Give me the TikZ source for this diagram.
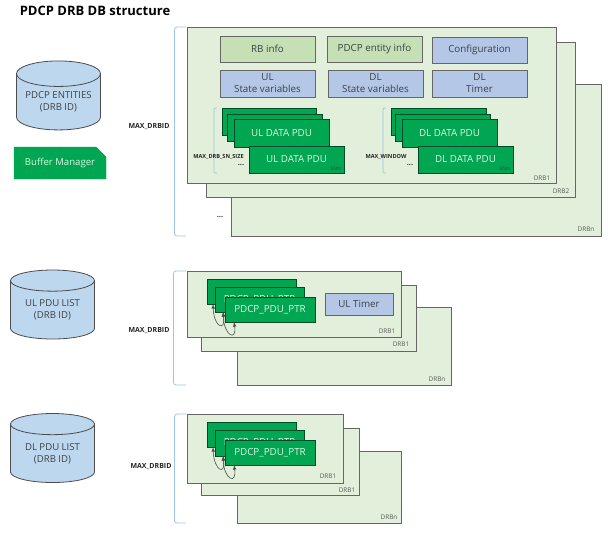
\documentclass[tikz,border=0pt]{standalone}
\usepackage{fontspec}
\setmainfont{Open Sans}
\usetikzlibrary{shapes.geometric,shapes.misc}
\definecolor{panelfill}{RGB}{226,239,218}
\definecolor{infofill}{RGB}{197,224,180}
\definecolor{varfill}{RGB}{180,199,231}
\definecolor{dbfill}{RGB}{189,215,238}
\definecolor{pdufill}{RGB}{0,166,81}
\definecolor{pdutext}{RGB}{222,245,225}
\definecolor{inktext}{RGB}{60,66,72}
\definecolor{bracecol}{RGB}{157,195,230}
\def\rectnode[#1](#2)(#3,#4)(#5,#6)#7{\node[#1, minimum width={(#5-#3)*1pt}, minimum height={(#6-#4)*1pt}] (#2) at ({(#3+#5)/2},{(#4+#6)/2}) {#7};}
\tikzset{
	panel/.style={draw=black!60, fill=panelfill, line width=0.8pt, inner sep=0pt, outer sep=0pt},
	infobox/.style={draw=black!60, fill=infofill, line width=0.9pt, inner sep=0pt, outer sep=0pt, align=center, text=inktext, font=\fontsize{9.8}{12}\selectfont},
	varbox/.style={infobox, fill=varfill},
	pdubox/.style={draw=black!55!pdufill, fill=pdufill, line width=0.7pt, inner sep=0pt, outer sep=0pt, align=center, text=pdutext, font=\fontsize{9.8}{12}\selectfont},
	dbnode/.style={cylinder, shape border rotate=90, shape aspect=0.385, draw=black!70, fill=dbfill, line width=0.8pt, inner sep=0pt, outer sep=0pt, minimum width=84pt, minimum height=69pt, align=center, text=inktext, font=\fontsize{9.6}{12}\selectfont},
	drbtag/.style={inner sep=0pt, text=black!65, font=\fontsize{6.4}{7}\selectfont},
	maxtag/.style={inner sep=0pt, text=black!85, font=\fontsize{7}{8}\selectfont\bfseries},
	subtag/.style={inner sep=0pt, text=black!85, font=\fontsize{5.6}{7}\selectfont\bfseries},
	dottag/.style={inner sep=0pt, text=black!80, font=\fontsize{7.5}{8}\selectfont\bfseries},
	sntag/.style={inner sep=0pt, text=black!75, font=\fontsize{4.8}{5}\selectfont},
	drbbrace/.style={draw=bracecol, line width=0.8pt, rounded corners=2.5pt},
	ptrarc/.style={draw=black!70, line width=0.6pt, latex-latex},
}

\begin{document}
\begin{tikzpicture}[x=1pt, y=-1pt]
	\useasboundingbox (0,0) rectangle (610,533);
	
	\node[inner sep=0pt, font=\fontsize{13}{14}\selectfont\bfseries] (title) at (95,11) {PDCP DRB DB structure};
	
	%%%%% PDCP ENTITIES %%%%%
	
	\node[dbnode] (pdcpdb) at (58.5,102) {PDCP ENTITIES\\(DRB ID)};
	\node[chamfered rectangle, chamfered rectangle corners=north east, chamfered rectangle xsep=5pt, chamfered rectangle ysep=5pt, draw=pdufill, fill=pdufill, inner sep=0pt, outer sep=0pt, minimum width=92pt, minimum height=32pt, text=pdutext, font=\fontsize{9.6}{11}\selectfont] (bufmgr) at (60,163) {Buffer Manager};
	
	\draw[drbbrace] (186,27) -| (174.5,236) -- (186,236);
	\node[maxtag] (maxent) at (149,127) {MAX\_DRBID};
	
	\rectnode[panel](entn)(231,84)(601,236){}
	\rectnode[panel](ent2)(206,42)(575,197){}
	\rectnode[panel](ent1)(187,27)(556,183){}
	\node[drbtag] (entntag) at (586,229) {DRBn};
	\node[drbtag] (ent2tag) at (561,191) {DRB2};
	\node[drbtag] (ent1tag) at (542,178) {DRB1};
	\node[dottag] (entdots) at (220,217) {...};
	
	\rectnode[infobox](rbinfo)(220,36)(315,62){RB info}
	\rectnode[infobox](entinfo)(327,36)(422,62){PDCP entity info}
	\rectnode[varbox](config)(432,37)(527,63){Configuration}
	\rectnode[varbox](ulstate)(220,70)(315,97){UL\\State variables}
	\rectnode[varbox](dlstate)(328,70)(423,97){DL\\State variables}
	\rectnode[varbox](dltimer)(432,70)(527,97){DL\\Timer}
	
	\draw[drbbrace, line width=0.7pt, rounded corners=1pt] (217,108) -| (214,173) -- (217,173);
	\rectnode[pdubox](uldata1)(222,108)(316,135){}
	\rectnode[pdubox](uldata2)(227,114)(322,141){}
	\rectnode[pdubox](uldata3)(234,119)(329,147){UL DATA PDU}
	\rectnode[pdubox](uldatam)(249,146)(344,173){UL DATA PDU}
	\node[subtag] (ulsize) at (218.5,156.5) {MAX\_DRB\_SN\_SIZE};
	\node[dottag] (uldots) at (241,165) {...};
	\node[sntag] (ulsnm) at (336,169) {SNm};
	
	\draw[drbbrace, line width=0.7pt, rounded corners=1pt] (386,108) -| (383,173) -- (386,173);
	\rectnode[pdubox](dldata1)(391,108)(486,135){}
	\rectnode[pdubox](dldata2)(395,114)(490,141){}
	\rectnode[pdubox](dldata3)(402,119)(497,147){DL DATA PDU}
	\rectnode[pdubox](dldatam)(418,146)(513,173){DL DATA PDU}
	\node[subtag] (dlsize) at (386,156.5) {MAX\_WINDOW};
	\node[dottag] (dldots) at (410,165) {...};
	\node[sntag] (dlsnm) at (505,169) {SNm};
	
	%%%%% UL PDU LIST %%%%%
	
	\node[dbnode] (uldb) at (52.5,310) {UL PDU LIST\\(DRB ID)};
	
	\draw[drbbrace] (186,271) -| (173.5,385) -- (186,385);
	\node[maxtag] (maxul) at (149,331) {MAX\_DRBID};
	
	\rectnode[panel](uln)(237,307)(451,385){}
	\rectnode[panel](ul2)(201,285)(416,351){}
	\rectnode[panel](ul1)(187,271)(401,337){}
	\node[drbtag] (ulntag) at (437,379) {DRBn};
	\node[drbtag] (ul2tag) at (401,344) {DRB1};
	\node[drbtag] (ul1tag) at (387,331) {DRB1};
	
	\rectnode[pdubox](ulptr1)(207,279)(296,304){}
	\rectnode[pdubox](ulptr2)(215,287)(304,312){PDCP\_PDU\_PTR}
	\rectnode[pdubox](ulptr3)(225,297)(315,322){PDCP\_PDU\_PTR}
	\rectnode[varbox](ultimer)(325,293)(393,315){UL Timer}
	\draw[ptrarc] ([xshift=6pt]ulptr1.south west) .. controls +(1,24) and +(3,20) .. ([xshift=8pt]ulptr2.south west);
	\draw[ptrarc] ([xshift=8pt]ulptr2.south west) .. controls +(1,24) and +(3,20) .. ([xshift=9pt]ulptr3.south west);
	
	%%%%% DL PDU LIST %%%%%
	
	\node[dbnode] (dldb) at (52.5,453.5) {DL PDU LIST\\(DRB ID)};
	
	\draw[drbbrace] (186,414) -| (174.5,523) -- (186,523);
	\node[maxtag] (maxdl) at (151,467) {MAX\_DRBID};
	
	\rectnode[panel](dln)(237,451)(401,523){}
	\rectnode[panel](dl2)(201,428)(359,495){}
	\rectnode[panel](dl1)(187,414)(343,483){}
	\node[drbtag] (dlntag) at (389,517) {DRBn};
	\node[drbtag] (dl2tag) at (347,490) {DRB1};
	\node[drbtag] (dl1tag) at (328,476) {DRB1};
	
	\rectnode[pdubox](dlptr1)(207,422)(296,447){}
	\rectnode[pdubox](dlptr2)(215,430)(304,456){PDCP\_PDU\_PTR}
	\rectnode[pdubox](dlptr3)(225,440)(315,465){PDCP\_PDU\_PTR}
	\draw[ptrarc] ([xshift=6pt]dlptr1.south west) .. controls +(1,24) and +(3,20) .. ([xshift=8pt]dlptr2.south west);
	\draw[ptrarc] ([xshift=8pt]dlptr2.south west) .. controls +(1,24) and +(3,20) .. ([xshift=9pt]dlptr3.south west);
\end{tikzpicture}
\end{document}
